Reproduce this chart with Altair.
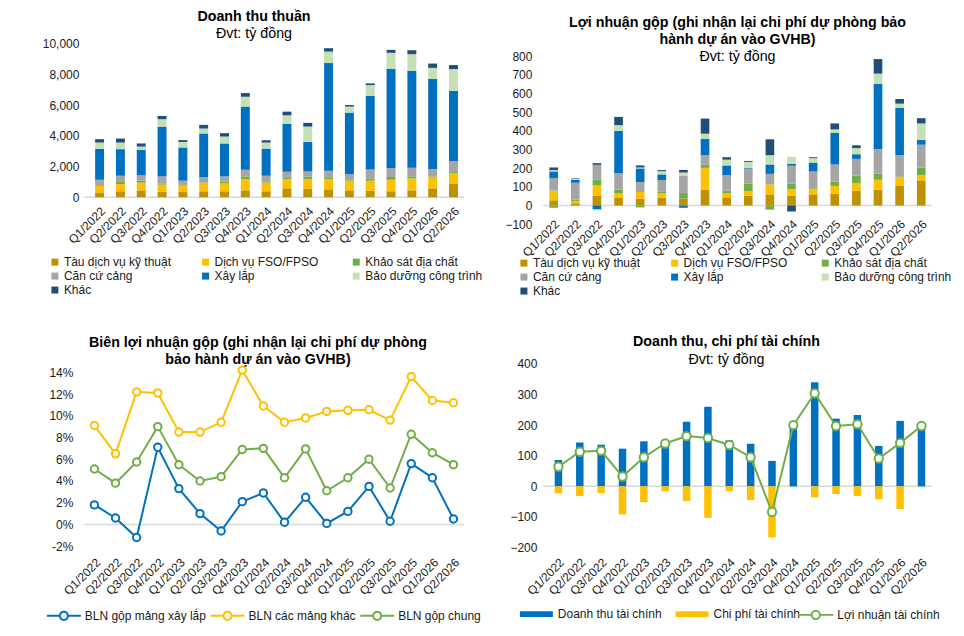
import altair as alt
import pandas as pd

FONT = "Liberation Sans"
TXT = "#1a1a1a"

quarters = ["Q1/2022", "Q2/2022", "Q3/2022", "Q4/2022", "Q1/2023", "Q2/2023", "Q3/2023", "Q4/2023",
            "Q1/2024", "Q2/2024", "Q3/2024", "Q4/2024", "Q1/2025", "Q2/2025", "Q3/2025", "Q4/2025",
            "Q1/2026", "Q2/2026"]

seg_names = ["Tàu dịch vụ kỹ thuật", "Dịch vụ FSO/FPSO", "Khảo sát địa chất", "Căn cứ cảng",
             "Xây lắp", "Bảo dưỡng công trình", "Khác"]
seg_colors = ["#BF9000", "#FFC000", "#70AD47", "#A5A5A5", "#0070C0", "#C5E0B4", "#1F4E79"]

# Doanh thu thuần (tỷ đồng)
rev_tau = [320, 390, 450, 350, 340, 390, 390, 450, 390, 580, 540, 520, 450, 430, 390, 450, 580, 860]
rev_fso = [430, 470, 500, 470, 420, 540, 510, 740, 560, 610, 650, 670, 630, 650, 750, 780, 740, 720]
rev_ks = [50, 180, 130, 80, 40, 30, 110, 170, 90, 110, 150, 110, 90, 150, 180, 130, 40, 60]
rev_cc = [340, 360, 350, 460, 280, 340, 350, 430, 360, 360, 340, 430, 340, 580, 560, 560, 480, 710]
rev_xl = [2010, 1730, 1660, 3240, 2160, 2850, 2140, 4110, 1770, 3110, 1920, 7000, 4000, 4800, 6480, 6310, 5870, 4580]
rev_bd = [410, 430, 210, 480, 360, 320, 450, 640, 390, 560, 1000, 750, 390, 690, 1040, 1080, 710, 1410]
rev_khac = [220, 260, 200, 210, 120, 240, 220, 240, 150, 240, 240, 220, 100, 110, 190, 260, 280, 260]

# Lợi nhuận gộp (tỷ đồng)
gp_tau = [28, 12, 53, 43, 37, 41, 37, 85, 44, 53, 60, 53, 60, 64, 80, 85, 108, 135]
gp_fso = [52, 13, 57, 24, 36, 26, 0, 117, 23, 25, 53, 36, 30, 41, 41, 53, 44, 28]
gp_ks = [-12, 7, 28, 18, -10, 9, 30, 16, 13, 39, -22, 28, 8, 23, 40, 32, 2, 41]
gp_cc = [67, 90, 80, 89, 53, 61, 94, 53, 83, 78, 57, 96, 85, 92, 89, 133, 116, 122]
gp_xl = [36, 16, -21, 226, 73, 30, -12, 87, 52, 5, 50, 10, 47, 170, 25, 349, 253, 25]
gp_bd = [7, 4, -5, 31, 5, 17, 16, 27, 31, 34, 50, 38, 24, 18, 33, 55, 23, 89]
gp_khac = [14, 3, 9, 44, 11, 6, 14, 81, 13, 5, 85, -32, 5, 32, 15, 78, 25, 28]

# Biên lợi nhuận gộp (%)
margin_names = ["BLN gộp mảng xây lắp", "BLN các mảng khác", "BLN gộp chung"]
margin_colors = ["#0070C0", "#FFC000", "#70AD47"]
m_xl = [1.8, 0.6, -1.2, 7.1, 3.3, 1.0, -0.6, 2.1, 2.9, 0.2, 2.5, 0.1, 1.2, 3.5, 0.3, 5.6, 4.3, 0.5]
m_khac = [9.1, 6.5, 12.2, 12.1, 8.5, 8.5, 9.4, 14.2, 10.9, 9.4, 9.8, 10.4, 10.5, 10.55, 9.6, 13.6, 11.4, 11.2]
m_chung = [5.1, 3.8, 5.75, 9.0, 5.5, 4.0, 4.4, 6.9, 7.0, 4.3, 6.95, 3.1, 4.3, 6.0, 3.35, 8.3, 6.6, 5.5]

# Doanh thu, chi phí tài chính (tỷ đồng)
fin_names = ["Doanh thu tài chính", "Chi phí tài chính"]
fin_colors = ["#0070C0", "#FFC000"]
fin_profit_name = "Lợi nhuận tài chính"
fin_rev = [86, 143, 136, 123, 147, 150, 211, 260, 150, 139, 83, 200, 340, 221, 233, 132, 214, 192]
fin_cost = [-23, -32, -22, -92, -52, -16, -48, -103, -16, -45, -167, 0, -36, -25, -32, -42, -74, 0]
fin_profit = [64, 113, 116, 32, 95, 140, 164, 158, 135, 95, -84, 200, 304, 197, 203, 91, 142, 197]


def long_df(names, lists):
    rows = []
    for k, (name, vals) in enumerate(zip(names, lists)):
        for q, v in zip(quarters, vals):
            rows.append({"quarter": q, "series": name, "value": v, "idx": k})
    return pd.DataFrame(rows)


df1 = long_df(seg_names, [rev_tau, rev_fso, rev_ks, rev_cc, rev_xl, rev_bd, rev_khac])
df2 = long_df(seg_names, [gp_tau, gp_fso, gp_ks, gp_cc, gp_xl, gp_bd, gp_khac])
df3 = long_df(margin_names, [m_xl, m_khac, m_chung])
df4 = long_df(fin_names, [fin_rev, fin_cost])
df4p = long_df([fin_profit_name], [fin_profit])
zero_df = pd.DataFrame({"value": [0]})

LINE_SYM = "M-1,0L-0.24,0M0.24,0L1,0M-0.24,0A0.24,0.24,0,1,1,0.24,0A0.24,0.24,0,1,1,-0.24,0Z"
RECT_SYM = "M-1,-0.18L1,-0.18L1,0.18L-1,0.18Z"


def xaxis(pad):
    return alt.Axis(title=None, labelAngle=-45, labelAlign="right", labelBaseline="top",
                    labelPadding=pad, ticks=False, tickSize=0, domain=False, grid=False)


def yaxis(values, pad, **kw):
    return alt.Axis(values=values, labelPadding=pad, title=None, grid=False, domain=False,
                    ticks=False, **kw)


def zero_rule(y):
    return alt.Chart(zero_df).mark_rule(color="#D9D9D9", strokeWidth=1.5).encode(y=y)


seg_legend_common = dict(orient="none", direction="horizontal", columns=3, gridAlign="all", title=None,
                         symbolType="square", symbolSize=49, symbolStrokeWidth=0, labelOffset=3,
                         columnPadding=18, rowPadding=2, labelFontSize=12, padding=0)

# Panel 1
W1, H1 = 381, 154
ax1 = yaxis([0, 2000, 4000, 6000, 8000, 10000], 5, labelExpr="format(datum.value, ',')")
sc1 = alt.Scale(domain=[0, 10000], nice=False)
c1 = alt.layer(
    zero_rule(alt.Y("value:Q", scale=sc1, axis=ax1)),
    alt.Chart(df1).mark_bar().encode(
        x=alt.X("quarter:N", sort=quarters, axis=xaxis(8),
                scale=alt.Scale(paddingInner=0.57, paddingOuter=0.417, align=0.65)),
        y=alt.Y("value:Q", stack="zero", scale=sc1, axis=ax1),
        color=alt.Color("series:N", scale=alt.Scale(domain=seg_names, range=seg_colors),
                        legend=alt.Legend(legendX=-35, legendY=213, **seg_legend_common)),
        order=alt.Order("idx:Q"),
    ),
).properties(width=W1, height=H1,
             title=alt.TitleParams(text="Doanh thu thuần", subtitle="Đvt: tỷ đồng", dx=-20, offset=-4))

# Panel 2
W2, H2 = 390, 181
ax2 = yaxis([-100, 0, 100, 200, 300, 400, 500, 600, 700, 800], 11)
sc2 = alt.Scale(domain=[-100, 868], nice=False)
c2 = alt.layer(
    zero_rule(alt.Y("value:Q", scale=sc2, axis=ax2)),
    alt.Chart(df2).mark_bar().encode(
        x=alt.X("quarter:N", sort=quarters, axis=xaxis(-6),
                scale=alt.Scale(paddingInner=0.6, paddingOuter=0.3)),
        y=alt.Y("value:Q", stack="zero", scale=sc2, axis=ax2),
        color=alt.Color("series:N", scale=alt.Scale(domain=seg_names, range=seg_colors),
                        legend=alt.Legend(legendX=-25, legendY=214, **seg_legend_common)),
        order=alt.Order("idx:Q"),
    ),
).properties(width=W2, height=H2,
             title=alt.TitleParams(text=["Lợi nhuận gộp (ghi nhận lại chi phí dự phòng bảo",
                                         "hành dự án vào GVHB)"],
                                   subtitle="Đvt: tỷ đồng", dx=0, offset=-21))

# Panel 3
W3, H3 = 381, 184
x3 = alt.X("quarter:N", sort=quarters, axis=xaxis(9), scale=alt.Scale(type="point", padding=0.5))
stroke3 = alt.Stroke("series:N", scale=alt.Scale(domain=margin_names, range=margin_colors),
                     legend=alt.Legend(orient="none", direction="horizontal", legendX=-38, legendY=234,
                                       title=None, symbolType=LINE_SYM, symbolSize=1156,
                                       symbolStrokeWidth=2, symbolFillColor="white", labelOffset=3,
                                       columnPadding=0, labelFontSize=12, padding=0))
ax3 = yaxis([-2, 0, 2, 4, 6, 8, 10, 12, 14], 11, labelExpr="datum.value + '%'")
sc3 = alt.Scale(domain=[-2.12, 14.77], nice=False)
y3 = alt.Y("value:Q", scale=sc3, axis=ax3)
c3 = alt.layer(
    zero_rule(y3),
    alt.Chart(df3).mark_line(strokeWidth=2).encode(x=x3, y=y3, stroke=stroke3, detail="series:N"),
    alt.Chart(df3).mark_point(shape="circle", filled=True, fill="white", size=55, strokeWidth=2,
                              opacity=1).encode(x=x3, y=y3, stroke=stroke3),
).properties(width=W3, height=H3,
             title=alt.TitleParams(text=["Biên lợi nhuận gộp (ghi nhận lại chi phí dự phòng",
                                         "bảo hành dự án vào GVHB)"], dx=-16, offset=-5))

# Panel 4 (plot area shares the right column with panel 2)
W4, H4 = 390, 184
ax4 = yaxis([-200, -100, 0, 100, 200, 300, 400], 6)
sc4 = alt.Scale(domain=[-200, 400], nice=False)
y4 = alt.Y("value:Q", scale=sc4, axis=ax4)
stroke4 = alt.Stroke("series:N", scale=alt.Scale(domain=[fin_profit_name], range=["#70AD47"]),
                     legend=alt.Legend(orient="none", direction="horizontal", legendX=255, legendY=233,
                                       title=None, symbolType=LINE_SYM, symbolSize=1225,
                                       symbolStrokeWidth=2, symbolFillColor="white", labelOffset=3,
                                       labelFontSize=12, padding=0))
x4p = alt.X("quarter:N", sort=quarters, bandPosition=0.5)
c4 = alt.layer(
    zero_rule(y4),
    alt.Chart(df4).mark_bar().encode(
        x=alt.X("quarter:N", sort=quarters, axis=xaxis(9),
                scale=alt.Scale(paddingInner=0.65, paddingOuter=0.437, align=0.634)),
        y=alt.Y("value:Q", stack="zero", scale=sc4, axis=ax4),
        color=alt.Color("series:N", scale=alt.Scale(domain=fin_names, range=fin_colors),
                        legend=alt.Legend(orient="none", direction="horizontal", legendX=-23, legendY=234,
                                          title=None, symbolType=RECT_SYM, symbolSize=1089,
                                          symbolStrokeWidth=0, labelOffset=5, columnPadding=13,
                                          labelFontSize=12, padding=0)),
        order=alt.Order("idx:Q"),
    ),
    alt.Chart(df4p).mark_line(strokeWidth=2).encode(x=x4p, y=y4, stroke=stroke4),
    alt.Chart(df4p).mark_point(shape="circle", filled=True, fill="white", size=70, strokeWidth=2,
                               opacity=1).encode(x=x4p, y=y4, stroke=stroke4),
).properties(width=W4, height=H4,
             title=alt.TitleParams(text="Doanh thu, chi phí tài chính", subtitle="Đvt: tỷ đồng",
                                   dx=-11, offset=-9))

chart = alt.concat(c1, c2, c3, c4, columns=2, spacing={"row": 140, "column": 79}, bounds="flush").resolve_scale(
    x="independent", y="independent", color="independent", stroke="independent"
).resolve_legend(color="independent", stroke="independent").properties(
    padding={"left": 34, "top": 1, "right": 4, "bottom": 4}
).configure_view(stroke=None).configure_axis(
    labelFont=FONT, labelFontSize=12, labelColor=TXT, grid=False, domain=False, ticks=False
).configure_legend(
    labelFont=FONT, labelFontSize=12, labelColor=TXT
).configure_title(
    font=FONT, fontSize=14.3, fontWeight="bold", color="#000", subtitleFont=FONT, subtitleFontSize=14.3,
    subtitleColor="#000", anchor="middle", frame="group", subtitlePadding=3, lineHeight=17
)

chart.save("out.html", embed_options={"renderer": "svg", "actions": False})
